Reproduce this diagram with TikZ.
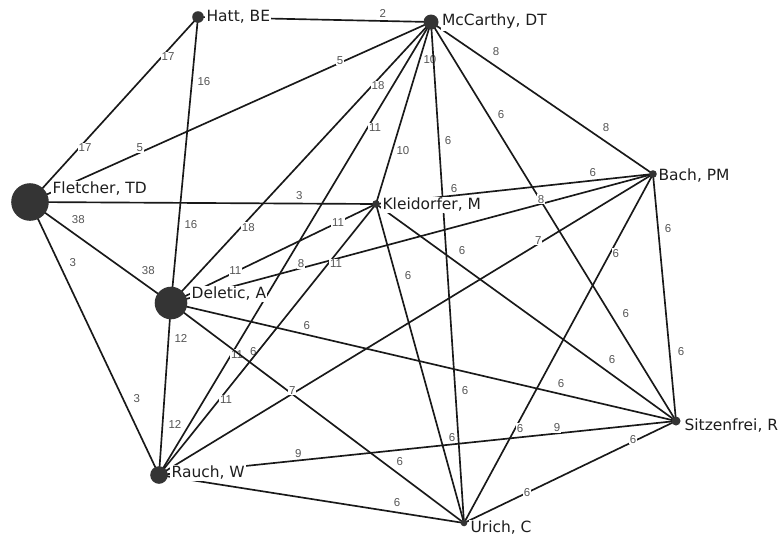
\documentclass[tikz,border=0pt]{standalone}
\usepackage{fontspec}
\setmainfont{DejaVu Sans}
\newfontfamily\numfont{Liberation Sans}
\definecolor{dotc}{RGB}{52,52,52}
\definecolor{numc}{RGB}{85,85,85}
\definecolor{txtc}{RGB}{30,30,30}
\pgfdeclarelayer{bg}
\pgfsetlayers{bg,main}
\begin{document}
\begin{tikzpicture}[x=0.75pt,y=-0.75pt,
  dotn/.style={circle, fill=dotc, draw=none, inner sep=0pt, minimum size=#1*1.5pt},
  nm/.style={anchor=west, fill=white, inner sep=1pt, text=txtc, font=\fontsize{11.6}{13}\selectfont},
  lnk/.style={line width=1.25pt, black!90},
  num/.style={fill=white, inner sep=0.6pt, text=numc, font=\numfont\fontsize{8.6}{10}\selectfont},
  sh/.style 2 args={xshift={0.75pt*(#1)}, yshift={-0.75pt*(#2)}}]
\useasboundingbox (0,0) rectangle (783,537);

% dots
\node[dotn=18.8] (fl) at (30,202) {};
\node[dotn=16.3] (de) at (171,303) {};
\node[dotn=8.8] (ra) at (159,475) {};
\node[dotn=5.8] (ha) at (198,17) {};
\node[dotn=7.5] (mc) at (431,22) {};
\node[dotn=3.8] (ba) at (653,174) {};
\node[dotn=3.8] (kl) at (376,204) {};
\node[dotn=3.3] (ur) at (464,523) {};
\node[dotn=4.5] (si) at (676,421) {};

% names
\node[nm] (haL) at (205,17) {Hatt, BE};
\node[nm] (mcL) at (440.5,21.7) {McCarthy, DT};
\node[nm] (flL) at (51,189) {Fletcher, TD};
\node[nm] (klL) at (381,205) {Kleidorfer, M};
\node[nm] (baL) at (657,176) {Bach, PM};
\node[nm] (deL) at (190,294) {Deletic, A};
\node[nm] (raL) at (170,473) {Rauch, W};
\node[nm] (urL) at (469,527.7) {Urich, C};
\node[nm] (siL) at (683,426) {Sitzenfrei, R};

\begin{pgfonlayer}{bg}
\fill[white] (0,0) rectangle (783,537);
\draw[lnk] (ha.center) -- node[num,pos=0.793,sh={0}{-7}]{2} (mc.center);
\draw[lnk] (ha.center) -- node[num,pos=0.199,sh={3.5}{3.2}]{17} node[num,pos=0.692,sh={3.3}{3}]{17} (fl.center);
\draw[lnk] (ha.center) -- node[num,pos=0.223,sh={12}{1.2}]{16} node[num,pos=0.723,sh={12.5}{1.2}]{16} (de.center);
\draw[lnk] (mc.center) -- node[num,pos=0.224,sh={-1}{-2}]{5} node[num,pos=0.721,sh={-2}{-4}]{5} (fl.center);
\draw[lnk] (mc.center) -- node[num,pos=0.215,sh={3}{3}]{18} node[num,pos=0.718,sh={4}{3.5}]{18} (de.center);
\draw[lnk] (mc.center) -- node[num,pos=0.2265,sh={5.6}{3.4}]{11} node[num,pos=0.728,sh={4}{2.4}]{11} (ra.center);
\draw[lnk] (mc.center) -- node[num,pos=0.193,sh={9.6}{2.9}]{10} node[num,pos=0.692,sh={10}{3}]{10} (kl.center);
\draw[lnk] (mc.center) -- node[num,pos=0.237,sh={9.2}{-0.6}]{6} node[num,pos=0.738,sh={9.6}{-0.7}]{6} (ur.center);
\draw[lnk] (mc.center) -- node[num,pos=0.262,sh={6.8}{-9.9}]{8} node[num,pos=0.759,sh={6.5}{-9.4}]{8} (ba.center);
\draw[lnk] (mc.center) -- node[num,pos=0.2475,sh={9.4}{-5.8}]{6} node[num,pos=0.749,sh={11.4}{-6.9}]{6} (si.center);
\draw[lnk] (fl.center) -- node[num,pos=0.778,sh={0}{-7.6}]{3} (kl.center);
\draw[lnk] (fl.center) -- node[num,pos=0.287,sh={7.8}{-11}]{38} node[num,pos=0.785,sh={7.6}{-10.6}]{38} (de.center);
\draw[lnk] (fl.center) -- node[num,pos=0.242,sh={11.5}{-5.4}]{3} node[num,pos=0.739,sh={11.4}{-5.4}]{3} (ra.center);
\draw[lnk] (de.center) -- node[num,pos=0.204,sh={12.4}{0.9}]{12} node[num,pos=0.704,sh={12.4}{0.9}]{12} (ra.center);
\draw[lnk] (de.center) -- node[num,pos=0.314,sh={0}{-1}]{11} node[num,pos=0.815,sh={0}{0}]{11} (kl.center);
\draw[lnk] (de.center) -- node[num,pos=0.272,sh={-1}{-4}]{8} node[num,pos=0.770,sh={-1}{-4.6}]{8} (ba.center);
\draw[lnk] (de.center) -- node[num,pos=0.265,sh={1.9}{-8.3}]{6} node[num,pos=0.768,sh={2.2}{-9.6}]{6} (si.center);
\draw[lnk] (de.center) -- node[num,pos=0.259,sh={6.3}{-8.3}]{6} node[num,pos=0.760,sh={6.2}{-8.3}]{6} (ur.center);
\draw[lnk] (kl.center) -- node[num,pos=0.207,sh={4.9}{3.9}]{11} node[num,pos=0.711,sh={4.3}{3.3}]{11} (ra.center);
\draw[lnk] (kl.center) -- node[num,pos=0.284,sh={-0.7}{-6.5}]{6} node[num,pos=0.786,sh={-1}{-7.4}]{6} (ba.center);
\draw[lnk] (kl.center) -- node[num,pos=0.2355,sh={11.3}{-3.1}]{6} node[num,pos=0.740,sh={10.9}{-3}]{6} (ur.center);
\draw[lnk] (kl.center) -- node[num,pos=0.2626,sh={7.2}{-10}]{6} node[num,pos=0.762,sh={7.4}{-10.3}]{6} (si.center);
\draw[lnk] (ba.center) -- node[num,pos=0.229,sh={-1.5}{-2.3}]{7} node[num,pos=0.727,sh={-1.5}{-2.2}]{7} (ra.center);
\draw[lnk] (ba.center) -- node[num,pos=0.2205,sh={4.4}{2.3}]{6} node[num,pos=0.723,sh={3.6}{2}]{6} (ur.center);
\draw[lnk] (ba.center) -- node[num,pos=0.2264,sh={9.8}{-0.9}]{6} node[num,pos=0.725,sh={11.3}{-1.1}]{6} (si.center);
\draw[lnk] (ra.center) -- node[num,pos=0.271,sh={-0.8}{-7.1}]{9} node[num,pos=0.771,sh={-0.6}{-5.4}]{9} (si.center);
\draw[lnk] (ra.center) -- node[num,pos=0.7756,sh={1.4}{-9.2}]{6} (ur.center);
\draw[lnk] (ur.center) -- node[num,pos=0.298,sh={0}{0}]{6} node[num,pos=0.802,sh={-1}{-2}]{6} (si.center);
\end{pgfonlayer}
\end{tikzpicture}
\end{document}
